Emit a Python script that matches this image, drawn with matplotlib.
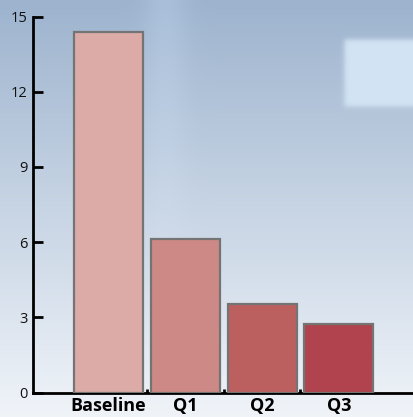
import numpy as np
import matplotlib
matplotlib.use("Agg")
import matplotlib.pyplot as plt
from matplotlib.colors import to_rgb

categories = ["Baseline", "Q1", "Q2", "Q3"]
values = [14.4, 6.12, 3.52, 2.73]
yticks = [0, 3, 6, 9, 12, 15]
bar_colors = ["#dcaba7", "#cd8985", "#bc5f5f", "#b0434d"]

W, H = 414, 417
fig = plt.figure(figsize=(W / 100, H / 100), dpi=100)

# background: vertical gradient with a light window patch
bg = fig.add_axes([0, 0, 1, 1], zorder=-10)
bg.set_axis_off()
top = np.array(to_rgb("#9db3ce"))
mid = np.array(to_rgb("#c3d1e2"))
bot = np.array(to_rgb("#f0f4f9"))
t = np.linspace(0, 1, H)[:, None]
img = np.zeros((H, W, 3))
for c in range(3):
    up = top[c] + (mid[c] - top[c]) * np.clip(t / 0.45, 0, 1)
    lo = mid[c] + (bot[c] - mid[c]) * np.clip((t - 0.45) / 0.55, 0, 1)
    img[:, :, c] = np.where(t < 0.45, up, lo) + 0 * np.arange(W)[None, :]
# soft lighter streak
xs = np.arange(W)[None, :]
streak = np.exp(-((xs - 165) / 22.0) ** 2) * np.clip(1 - t / 0.7, 0, 1) * 0.045
img = np.clip(img + streak[:, :, None], 0, 1)
# window patch with soft edges
ys = np.arange(H)[:, None]
mx = 1 / (1 + np.exp(-(xs - 344) / 1.5))
my = (1 / (1 + np.exp(-(ys - 39) / 1.5))) * (1 / (1 + np.exp((ys - 106) / 1.5)))
m = (mx * my)[:, :, None]
win = np.array(to_rgb("#d3e4f4"))
img = img * (1 - m) + win * m
bg.imshow(img, aspect="auto", extent=[0, 1, 0, 1], interpolation="bilinear")
bg.set_xlim(0, 1)
bg.set_ylim(0, 1)

ax = fig.add_axes([33 / W, (H - 392.5) / H, (W - 33) / W, (392.5 - 16.5) / H])
ax.patch.set_alpha(0)
x = np.arange(len(categories))
ax.bar(x, values, width=0.9, color=bar_colors, edgecolor="#747474",
       linewidth=1.6, zorder=3)
ax.set_xlim(-0.985, 3.98)
ax.set_ylim(0, 15)

for s in ["top", "right"]:
    ax.spines[s].set_visible(False)
for s in ["left", "bottom"]:
    ax.spines[s].set_linewidth(2.0)
    ax.spines[s].set_color("black")
    ax.spines[s].set_zorder(1)

ax.set_yticks(yticks)
ax.set_yticklabels([str(v) for v in yticks], fontfamily="Open Sans",
                   fontsize=10.5, color="#111111")
ax.tick_params(axis="y", direction="in", length=7, width=2.0, pad=4, colors="black")
ax.tick_params(axis="y", labelcolor="#111111")

ax.set_xticks(x)
ax.set_xticklabels(categories, fontfamily="Open Sans", fontweight="bold",
                   fontsize=13, color="black")
ax.tick_params(axis="x", length=0, pad=3)
ax.set_xticks([0.5, 1.5, 2.5], minor=True)
ax.tick_params(axis="x", which="minor", direction="in", length=3, width=2.0)

fig.savefig("out.png", dpi=100)
